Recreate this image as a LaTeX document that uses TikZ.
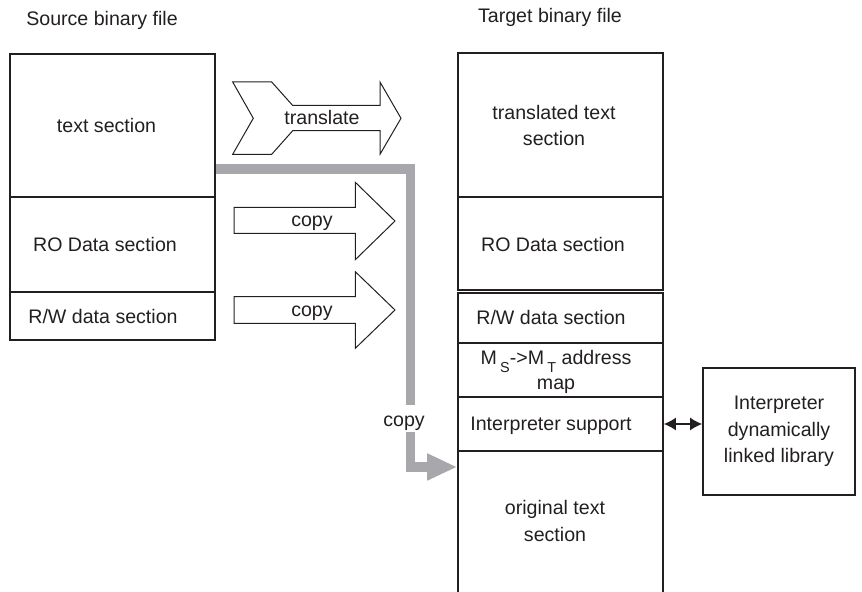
\documentclass[tikz,border=0pt]{standalone}
\usepackage{fontspec}
\setmainfont{Liberation Sans}
\usepackage{xcolor}
\usepackage{tikz}
\usetikzlibrary{arrows.meta}
\usetikzlibrary{positioning}

\definecolor{ink}{RGB}{35,31,32}
\definecolor{pathgray}{RGB}{168,168,172}

\newcommand{\lowsub}[1]{\raisebox{-4pt}{\fontsize{7.2}{7.2}\selectfont #1}}

\tikzset{
	sect/.style={draw=ink,line width=0.8pt,minimum width=102.5pt,inner sep=0pt},
	lbl/.style={font=\fontsize{9.8}{13.3}\selectfont,text=ink,align=center,inner sep=0pt},
	blockarrow/.style={draw=ink,line width=0.5pt},
	copypath/.style={draw=pathgray,line width=4.75pt},
}

\begin{document}
\begin{tikzpicture}[x=0.5pt,y=-0.5pt]
	\useasboundingbox (0,0) rectangle (862,592);
	\node[lbl,anchor=base] (src hdr) at (102,26) {Source binary file};
	\node[lbl,anchor=base] (tgt hdr) at (550,23) {Target binary file};
	% source file
	\node[sect,minimum height=71.5pt] (src text) at (112.5,125.5) {};
	\node[sect,minimum height=47.5pt] (src ro) at (112.5,244.5) {};
	\node[sect,minimum height=24pt] (src rw) at (112.5,316) {};
		\node[lbl,anchor=base] (src text lbl) at (106.5,133) {text section};
		\node[lbl,anchor=base] (src ro lbl) at (105,252) {RO Data section};
		\node[lbl,anchor=base] (src rw lbl) at (103,324) {R/W data section};
	% target file
	\node[sect,minimum height=72pt] (tgt text) at (560.5,125) {};
	\node[sect,minimum height=46.5pt] (tgt ro) at (560.5,243.5) {};
	\node[sect,minimum height=25pt] (tgt rw) at (560.5,318) {};
	\node[sect,minimum height=27pt] (tgt map) at (560.5,370) {};
	\node[sect,minimum height=27pt] (tgt interp) at (560.5,424) {};
	\node[sect,minimum height=90pt] (tgt orig) at (560.5,541) {};
		\node[lbl] (tgt text lbl) at (554,125.5) {translated text\\section};
		\node[lbl,anchor=base] (tgt ro lbl) at (553,252) {RO Data section};
		\node[lbl,anchor=base] (tgt rw lbl) at (551,325) {R/W data section};
		\node[lbl,anchor=base] (tgt map lbl) at (556,365) {M\,\lowsub{S}->M\,\lowsub{T} address};
		\node[lbl,anchor=base] (tgt map lbl2) at (556,390) {map};
		\node[lbl,anchor=base] (tgt interp lbl) at (551,431) {Interpreter support};
		\node[lbl] (tgt orig lbl) at (555,521) {original text\\section};
	\node[sect,lbl,minimum width=76pt,minimum height=63.5pt] (lib) at (779,431.5) {Interpreter\\dynamically\\linked library};
	\draw[ink,line width=0.8pt,{Latex[length=6pt,width=6.5pt]}-{Latex[length=6pt,width=6.5pt]}] (tgt interp.east) -- (tgt interp.east -| lib.west);
	% block arrows
	\draw[blockarrow] (232.7,82) -- (271.7,82) -- (292.7,105.5) -- (380,105.5) -- (380,82) -- (401,118.3) -- (380,154.3) -- (380,130.7) -- (292.7,130.7) -- (271.7,154.3) -- (232.7,154.3) -- (253.3,118.3) -- cycle;
		\node[lbl,anchor=base] (translate lbl) at (322,125) {translate};
	\draw[blockarrow] (234,207.3) -- (355.3,207.3) -- (355.3,182.3) -- (395,221) -- (355.3,259.7) -- (355.3,233.3) -- (234,233.3) -- cycle;
		\node[lbl,anchor=base] (copy ro lbl) at (312,226.5) {copy};
	\draw[blockarrow] (234,296.7) -- (355.3,296.7) -- (355.3,271.7) -- (395,310) -- (355.3,348.3) -- (355.3,323.3) -- (234,323.3) -- cycle;
		\node[lbl,anchor=base] (copy rw lbl) at (312,316.7) {copy};
	% gray copy path
	\coordinate (gturn1) at (410.5,169);
	\coordinate (gstop) at (410.5,405);
	\coordinate (gresume) at (410.5,432);
	\coordinate (gturn2) at (410.5,467);
	\draw[copypath] (src text.east |- gturn1) -- (gturn1) -- (gstop);
	\draw[copypath,-{Triangle[length=15pt,width=12.5pt]},pathgray] (gresume) -- (gturn2) -- (tgt orig.west |- gturn2);
		\node[lbl,anchor=base] (copy text lbl) at (404,427) {copy};
\end{tikzpicture}
\end{document}
